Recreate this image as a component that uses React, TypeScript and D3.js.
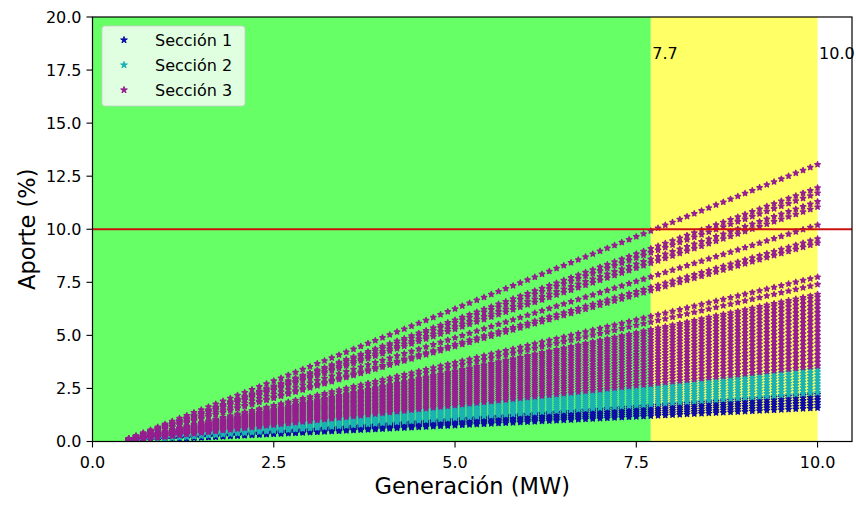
import React from 'react';
import * as d3 from 'd3';

// Generación (MW) sampled along the x axis
const generation = [
  0.5, 0.6, 0.7, 0.8, 0.9, 1.0, 1.1, 1.2, 1.3, 1.4, 1.5, 1.6, 1.7, 1.8, 1.9,
  2.0, 2.1, 2.2, 2.3, 2.4, 2.5, 2.6, 2.7, 2.8, 2.9, 3.0, 3.1, 3.2, 3.3, 3.4,
  3.5, 3.6, 3.7, 3.8, 3.9, 4.0, 4.1, 4.2, 4.3, 4.4, 4.5, 4.6, 4.7, 4.8, 4.9,
  5.0, 5.1, 5.2, 5.3, 5.4, 5.5, 5.6, 5.7, 5.8, 5.9, 6.0, 6.1, 6.2, 6.3, 6.4,
  6.5, 6.6, 6.7, 6.8, 6.9, 7.0, 7.1, 7.2, 7.3, 7.4, 7.5, 7.6, 7.7, 7.8, 7.9,
  8.0, 8.1, 8.2, 8.3, 8.4, 8.5, 8.6, 8.7, 8.8, 8.9, 9.0, 9.1, 9.2, 9.3, 9.4,
  9.5, 9.6, 9.7, 9.8, 9.9, 10.0,
];

// Aporte (%) of each line at 10 MW, per section; lines start at zero near 0.4 MW
const zeroGeneration = 0.4;
const fullGeneration = 10.0;
const seccion1At10 = [1.58, 1.71, 1.84, 1.97, 2.1, 2.22];
const seccion2At10 = [2.3, 2.44, 2.58, 2.72, 2.86, 3.0, 3.14, 3.28, 3.42];
const seccion3At10 = [
  3.56, 3.74, 3.92, 4.1, 4.28, 4.46, 4.64, 4.82, 5.0, 5.18, 5.36, 5.54, 5.72,
  5.9, 6.08, 6.26, 6.44, 6.62, 6.8, 6.93, 7.4, 7.75, 9.35, 9.55, 10.2, 11.05,
  11.3, 11.7, 11.95, 13.05,
];

const seriesNames = ['Sección 1', 'Sección 2', 'Sección 3'];
const seriesColors = ['#0d0da6', '#1cb2b2', '#951f90'];

const xTicks = [0, 2.5, 5, 7.5, 10];
const yTicks = [0, 2.5, 5, 7.5, 10, 12.5, 15, 17.5, 20];
const greenZone = [0, 7.7];
const yellowZone = [7.7, 10.0];
const zoneLabels = [7.7, 10.0];
const limitValue = 10;

export default function App() {
  const W = 856;
  const H = 505;
  const left = 92.5;
  const right = 852;
  const top = 17;
  const bottom = 441.5;

  const x = d3.scaleLinear().domain([0, 10.475]).range([left, right]);
  const y = d3.scaleLinear().domain([0, 20]).range([bottom, top]);
  const star = d3.symbol(d3.symbolStar, 9)() as string;
  const legendStar = d3.symbol(d3.symbolStar, 14)() as string;

  const sections = [seccion1At10, seccion2At10, seccion3At10];
  const font = 'DejaVu Sans, sans-serif';

  const marks: React.ReactNode[] = [];
  sections.forEach((lines, si) => {
    lines.forEach((v10, li) => {
      generation.forEach((g, gi) => {
        const val = (v10 * (g - zeroGeneration)) / (fullGeneration - zeroGeneration);
        marks.push(
          <path
            key={`${si}-${li}-${gi}`}
            d={star}
            transform={`translate(${x(g)},${y(val)})`}
            fill={seriesColors[si]}
            stroke={seriesColors[si]}
            strokeWidth={1.4}
            strokeLinejoin="round"
          />
        );
      });
    });
  });

  return (
    <svg
      width={W}
      height={H}
      style={{ position: 'absolute', left: 0, top: 0, background: '#fff' }}
      fontFamily={font}
    >
      <rect x={0} y={0} width={W} height={H} fill="#fff" />
      <defs>
        <clipPath id="plot">
          <rect x={left} y={top} width={right - left} height={bottom - top} />
        </clipPath>
      </defs>
      <g clipPath="url(#plot)">
        <rect
          x={x(greenZone[0])}
          y={top}
          width={x(greenZone[1]) - x(greenZone[0])}
          height={bottom - top}
          fill="#66ff66"
        />
        <rect
          x={x(yellowZone[0])}
          y={top}
          width={x(yellowZone[1]) - x(yellowZone[0])}
          height={bottom - top}
          fill="#ffff66"
        />
        {marks}
        <line
          x1={left}
          x2={right}
          y1={y(limitValue)}
          y2={y(limitValue)}
          stroke="#cc1111"
          strokeWidth={2.2}
        />
      </g>
      {zoneLabels.map((v) => (
        <text key={v} x={x(v) + 1.5} y={y(18)} fontSize={16} fill="#000">
          {v.toFixed(1)}
        </text>
      ))}
      {/* frame */}
      <rect
        x={left}
        y={top}
        width={right - left}
        height={bottom - top}
        fill="none"
        stroke="#000"
        strokeWidth={1.2}
      />
      {/* x axis ticks */}
      {xTicks.map((t) => (
        <g key={`x${t}`}>
          <line x1={x(t)} x2={x(t)} y1={bottom} y2={bottom + 6} stroke="#000" strokeWidth={1.1} />
          <text x={x(t)} y={bottom + 26} fontSize={16} textAnchor="middle" fill="#000">
            {t.toFixed(1)}
          </text>
        </g>
      ))}
      {yTicks.map((t) => (
        <g key={`y${t}`}>
          <line x1={left - 6} x2={left} y1={y(t)} y2={y(t)} stroke="#000" strokeWidth={1.1} />
          <text x={left - 11} y={y(t) + 5.8} fontSize={16} textAnchor="end" fill="#000">
            {t.toFixed(1)}
          </text>
        </g>
      ))}
      <text x={(left + right) / 2} y={494} fontSize={22.5} textAnchor="middle" fill="#000">
        Generación (MW)
      </text>
      <text
        transform={`translate(35,${(top + bottom) / 2}) rotate(-90)`}
        fontSize={22.5}
        textAnchor="middle"
        fill="#000"
      >
        Aporte (%)
      </text>
      {/* legend */}
      <g>
        <rect
          x={102}
          y={26}
          width={143}
          height={80}
          rx={3}
          fill="#fff"
          fillOpacity={0.8}
          stroke="#cccccc"
          strokeOpacity={0.8}
        />
        {seriesNames.map((n, i) => (
          <g key={n} transform={`translate(0,${40 + i * 25})`}>
            <path
              d={legendStar}
              transform="translate(124,0)"
              fill={seriesColors[i]}
              stroke={seriesColors[i]}
              strokeWidth={1}
              strokeLinejoin="round"
            />
            <text x={155} y={5.8} fontSize={16} fill="#000">
              {n}
            </text>
          </g>
        ))}
      </g>
    </svg>
  );
}
